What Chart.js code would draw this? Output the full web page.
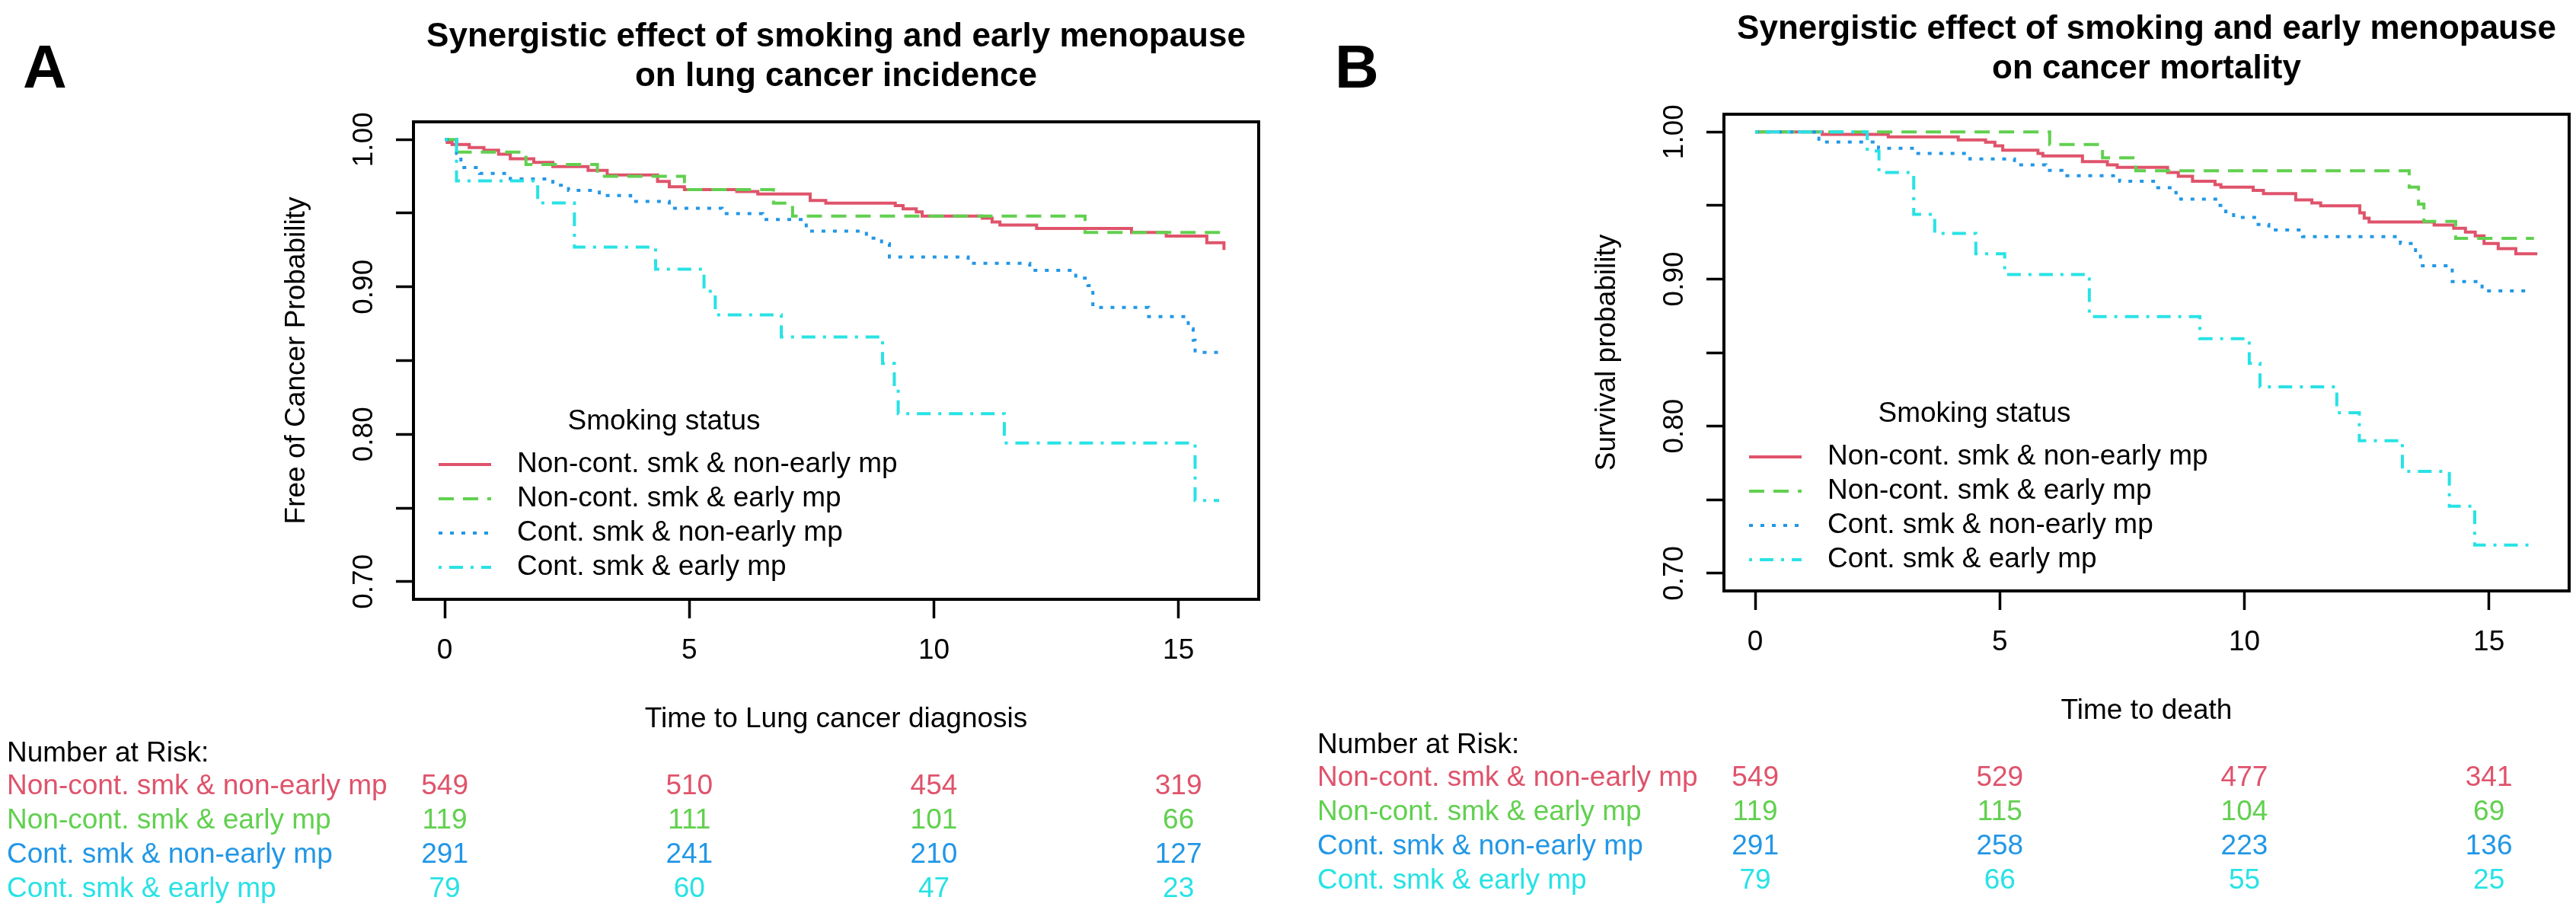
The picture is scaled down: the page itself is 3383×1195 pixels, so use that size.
<!DOCTYPE html>
<html>
<head>
<meta charset="utf-8">
<script src="https://cdn.jsdelivr.net/npm/chart.js@4"></script>
<style>
html,body{margin:0;padding:0;background:#fff;width:3383px;height:1195px;overflow:hidden}
canvas{position:absolute;top:0}
</style>
</head>
<body>
<canvas id="cA" width="1691" height="1195" style="left:0px"></canvas>
<canvas id="cB" width="1692" height="1195" style="left:1691px"></canvas>
<script>
// ---------- shared labels ----------
const groups = ["Non-cont. smk & non-early mp", "Non-cont. smk & early mp", "Cont. smk & non-early mp", "Cont. smk & early mp"];
const legendTitle = "Smoking status";
const riskHeader = "Number at Risk:";
const xTicks = [0, 5, 10, 15];
const yTicks = [0.70, 0.75, 0.80, 0.85, 0.90, 0.95, 1.00];
const yLabelTicks = [0.70, 0.80, 0.90, 1.00];

// ---------- Panel A: lung cancer incidence ----------
const timeA_nn = [0, 0.05, 0.15, 0.5, 0.8, 1.1, 1.34, 1.82, 2.21, 2.93, 3.32, 4.35, 4.59, 4.9, 5.97, 6.4, 7.47, 7.79, 9.21, 9.37, 9.64, 9.76, 10.99, 11.19, 11.35, 12.1, 14.04, 14.75, 15.58, 15.93];
const survA_nn = [1, 0.998, 0.9966, 0.9945, 0.9928, 0.990, 0.987, 0.9845, 0.9816, 0.979, 0.976, 0.9716, 0.968, 0.966, 0.9647, 0.963, 0.9586, 0.9569, 0.9552, 0.953, 0.9509, 0.948, 0.9466, 0.944, 0.942, 0.9397, 0.937, 0.9345, 0.930, 0.925];
const timeA_ne = [0, 0.24, 1.66, 3.12, 4.9, 6.72, 7.11, 13.09, 15.93];
const survA_ne = [1, 0.9914, 0.983, 0.975, 0.966, 0.9569, 0.948, 0.937, 0.937];
const timeA_cn = [0, 0.24, 0.33, 0.71, 1.34, 2.21, 2.53, 3.16, 3.8, 4.59, 5.67, 6.5, 7.39, 8.62, 8.93, 9.09, 10.7, 11.96, 12.9, 13.15, 13.25, 14.39, 15.2, 15.3, 15.34, 15.93];
const survA_cn = [1, 0.9905, 0.981, 0.977, 0.9733, 0.969, 0.9655, 0.962, 0.958, 0.9534, 0.9497, 0.9457, 0.9379, 0.9331, 0.9293, 0.9203, 0.916, 0.9112, 0.906, 0.9009, 0.886, 0.8798, 0.8716, 0.8638, 0.8555, 0.8555];
const timeA_ce = [0, 0.24, 1.9, 2.65, 4.31, 5.30, 5.53, 6.88, 8.95, 9.19, 9.27, 11.44, 15.34, 15.83];
const survA_ce = [1, 0.972, 0.957, 0.927, 0.912, 0.897, 0.881, 0.866, 0.848, 0.831, 0.814, 0.794, 0.755, 0.755];
const riskA_nn = [549, 510, 454, 319];
const riskA_ne = [119, 111, 101, 66];
const riskA_cn = [291, 241, 210, 127];
const riskA_ce = [79, 60, 47, 23];

// ---------- Panel B: cancer mortality ----------
const timeB_nn = [0, 1.37, 2.72, 4.15, 4.71, 4.9, 5.06, 5.78, 5.88, 6.69, 7.2, 7.4, 8.43, 8.65, 8.94, 9.4, 9.52, 10.18, 10.39, 11.05, 11.38, 11.56, 12.36, 12.45, 12.55, 13.88, 14.28, 14.52, 14.72, 14.9, 15.19, 15.55, 15.99];
const survB_nn = [1, 0.9983, 0.9966, 0.9945, 0.993, 0.9905, 0.9876, 0.9853, 0.9836, 0.9798, 0.9776, 0.9759, 0.9724, 0.9698, 0.9664, 0.9641, 0.9624, 0.9603, 0.9581, 0.9538, 0.9517, 0.9497, 0.945, 0.9414, 0.9388, 0.9367, 0.9345, 0.9319, 0.9293, 0.9241, 0.9207, 0.9172, 0.9172];
const timeB_ne = [0, 6.02, 7.1, 7.78, 13.37, 13.56, 13.67, 14.32, 15.92];
const survB_ne = [1, 0.9914, 0.9824, 0.9736, 0.9624, 0.9509, 0.9391, 0.9276, 0.9276];
const timeB_cn = [0, 1.21, 1.3, 2.52, 3.28, 4.39, 5.3, 5.94, 6.27, 7.45, 8.23, 8.6, 8.7, 9.45, 9.62, 9.78, 10.25, 10.5, 11.19, 13.19, 13.5, 13.6, 14.25, 14.86, 15.85];
const survB_cn = [1, 0.9957, 0.9931, 0.9888, 0.9853, 0.9816, 0.9776, 0.9738, 0.9702, 0.9664, 0.9621, 0.9585, 0.9543, 0.95, 0.9457, 0.9419, 0.9371, 0.9333, 0.9288, 0.9241, 0.9155, 0.909, 0.8983, 0.8919, 0.8919];
const timeB_ce = [0, 2.29, 2.53, 3.24, 3.67, 4.51, 5.1, 6.83, 9.09, 10.1, 10.32, 11.89, 12.35, 13.23, 14.19, 14.71, 15.93];
const survB_ce = [1, 0.987, 0.9724, 0.944, 0.931, 0.9172, 0.9031, 0.8745, 0.8595, 0.8428, 0.8267, 0.8091, 0.7901, 0.7693, 0.7456, 0.7192, 0.7192];
const riskB_nn = [549, 529, 477, 341];
const riskB_ne = [119, 115, 104, 69];
const riskB_cn = [291, 258, 223, 136];
const riskB_ce = [79, 66, 55, 25];

// ---------- styles ----------
const colors = ["#DF536B", "#61D04F", "#2297E6", "#28E2E5"];
const dashes = [[], [20, 12], [5, 10], [4, 10, 18, 10]];
const FONT = '"Liberation Sans", Arial, Helvetica, sans-serif';
const LW = 4;
const BOX_LW = 4;

function makePanel(canvasId, p) {
  const datasets = p.times.map((ts, i) => ({
    label: groups[i],
    data: ts.map((t, j) => ({ x: t, y: p.surv[i][j] })),
    borderColor: colors[i],
    borderWidth: LW,
    borderDash: dashes[i],
    borderCapStyle: 'butt',
    borderJoinStyle: 'miter',
    stepped: 'before',
    pointRadius: 0,
    fill: false,
    order: 3 - i
  }));

  const overlay = {
    id: 'overlay' + canvasId,
    afterDraw(chart) {
      const { ctx, chartArea: a } = chart;
      const xs = chart.scales.x;
      ctx.save();
      // plot box
      ctx.strokeStyle = '#000';
      ctx.lineWidth = BOX_LW;
      ctx.setLineDash([]);
      ctx.strokeRect(a.left, a.top, a.right - a.left, a.bottom - a.top);
      // panel letter
      ctx.fillStyle = '#000';
      ctx.textAlign = 'left';
      ctx.textBaseline = 'alphabetic';
      ctx.font = 'bold 80px ' + FONT;
      ctx.fillText(p.letter, p.letterX, 115);
      // title
      ctx.font = 'bold 44px ' + FONT;
      ctx.textAlign = 'center';
      const cx = (a.left + a.right) / 2;
      p.title.forEach((line, i) => ctx.fillText(line, cx, a.top - 99 + 52 * i));
      // legend
      ctx.font = '37px ' + FONT;
      ctx.textBaseline = 'middle';
      ctx.fillText(legendTitle, a.left + 329, a.top + 394);
      chart.data.datasets.forEach((d, i) => {
        const y = a.top + 450 + 45 * i;
        ctx.strokeStyle = d.borderColor;
        ctx.lineWidth = LW;
        ctx.setLineDash(d.borderDash);
        ctx.beginPath();
        ctx.moveTo(a.left + 33, y);
        ctx.lineTo(a.left + 102, y);
        ctx.stroke();
        ctx.setLineDash([]);
        ctx.fillStyle = '#000';
        ctx.textAlign = 'left';
        ctx.fillText(d.label, a.left + 136, y);
      });
      // number at risk table
      ctx.fillStyle = '#000';
      ctx.textAlign = 'left';
      ctx.fillText(riskHeader, a.left - 534, a.bottom + 203);
      p.risk.forEach((row, i) => {
        const y = a.bottom + 246 + 45 * i;
        ctx.fillStyle = colors[i];
        ctx.textAlign = 'left';
        ctx.fillText(groups[i], a.left - 534, y);
        ctx.textAlign = 'center';
        row.forEach((n, j) => ctx.fillText(String(n), xs.getPixelForValue(xTicks[j]), y));
      });
      ctx.restore();
    }
  };

  return new Chart(document.getElementById(canvasId), {
    type: 'line',
    data: { datasets },
    options: {
      responsive: false,
      animation: false,
      events: [],
      layout: { padding: { left: p.padL, right: p.padR, top: p.padT, bottom: p.padB } },
      plugins: { legend: { display: false }, tooltip: { enabled: false }, title: { display: false } },
      scales: {
        x: {
          type: 'linear', min: -0.64, max: 16.64,
          afterBuildTicks: s => { s.ticks = xTicks.map(v => ({ value: v })); },
          afterFit: s => { s.height = 180; },
          ticks: { autoSkip: false, color: '#000', font: { family: FONT, size: 37 }, padding: 21, minRotation: 0, maxRotation: 0, callback: v => String(v) },
          grid: { drawOnChartArea: false, drawTicks: true, tickLength: 25, tickWidth: 3.5, tickColor: '#000' },
          border: { display: false },
          title: { display: true, text: p.xTitle, color: '#000', font: { family: FONT, size: 37 }, padding: { top: 0, bottom: 0 } }
        },
        y: {
          type: 'linear', min: 0.688, max: 1.012,
          afterBuildTicks: s => { s.ticks = yTicks.map(v => ({ value: v })); },
          afterFit: s => { s.width = 203; },
          ticks: { autoSkip: false, color: '#000', font: { family: FONT, size: 37 }, padding: 5, minRotation: 90, maxRotation: 90, crossAlign: 'center',
                   callback: v => yLabelTicks.some(t => Math.abs(t - v) < 1e-9) ? v.toFixed(2) : '' },
          grid: { drawOnChartArea: false, drawTicks: true, tickLength: 23, tickWidth: 3.5, tickColor: '#000' },
          border: { display: false },
          title: { display: true, text: p.yTitle, color: '#000', font: { family: FONT, size: 37 }, padding: { top: 28, bottom: 0 } }
        }
      }
    },
    plugins: [overlay]
  });
}

makePanel('cA', {
  letter: 'A', letterX: 30,
  title: ['Synergistic effect of smoking and early menopause', 'on lung cancer incidence'],
  xTitle: 'Time to Lung cancer diagnosis',
  yTitle: 'Free of Cancer Probability',
  times: [timeA_nn, timeA_ne, timeA_cn, timeA_ce],
  surv: [survA_nn, survA_ne, survA_cn, survA_ce],
  risk: [riskA_nn, riskA_ne, riskA_cn, riskA_ce],
  padL: 340, padR: 38, padT: 160, padB: 228
});

makePanel('cB', {
  letter: 'B', letterX: 62,
  title: ['Synergistic effect of smoking and early menopause', 'on cancer mortality'],
  xTitle: 'Time to death',
  yTitle: 'Survival probability',
  times: [timeB_nn, timeB_ne, timeB_cn, timeB_ce],
  surv: [survB_nn, survB_ne, survB_cn, survB_ce],
  risk: [riskB_nn, riskB_ne, riskB_cn, riskB_ce],
  padL: 370, padR: 9, padT: 150, padB: 239
});
</script>
</body>
</html>
